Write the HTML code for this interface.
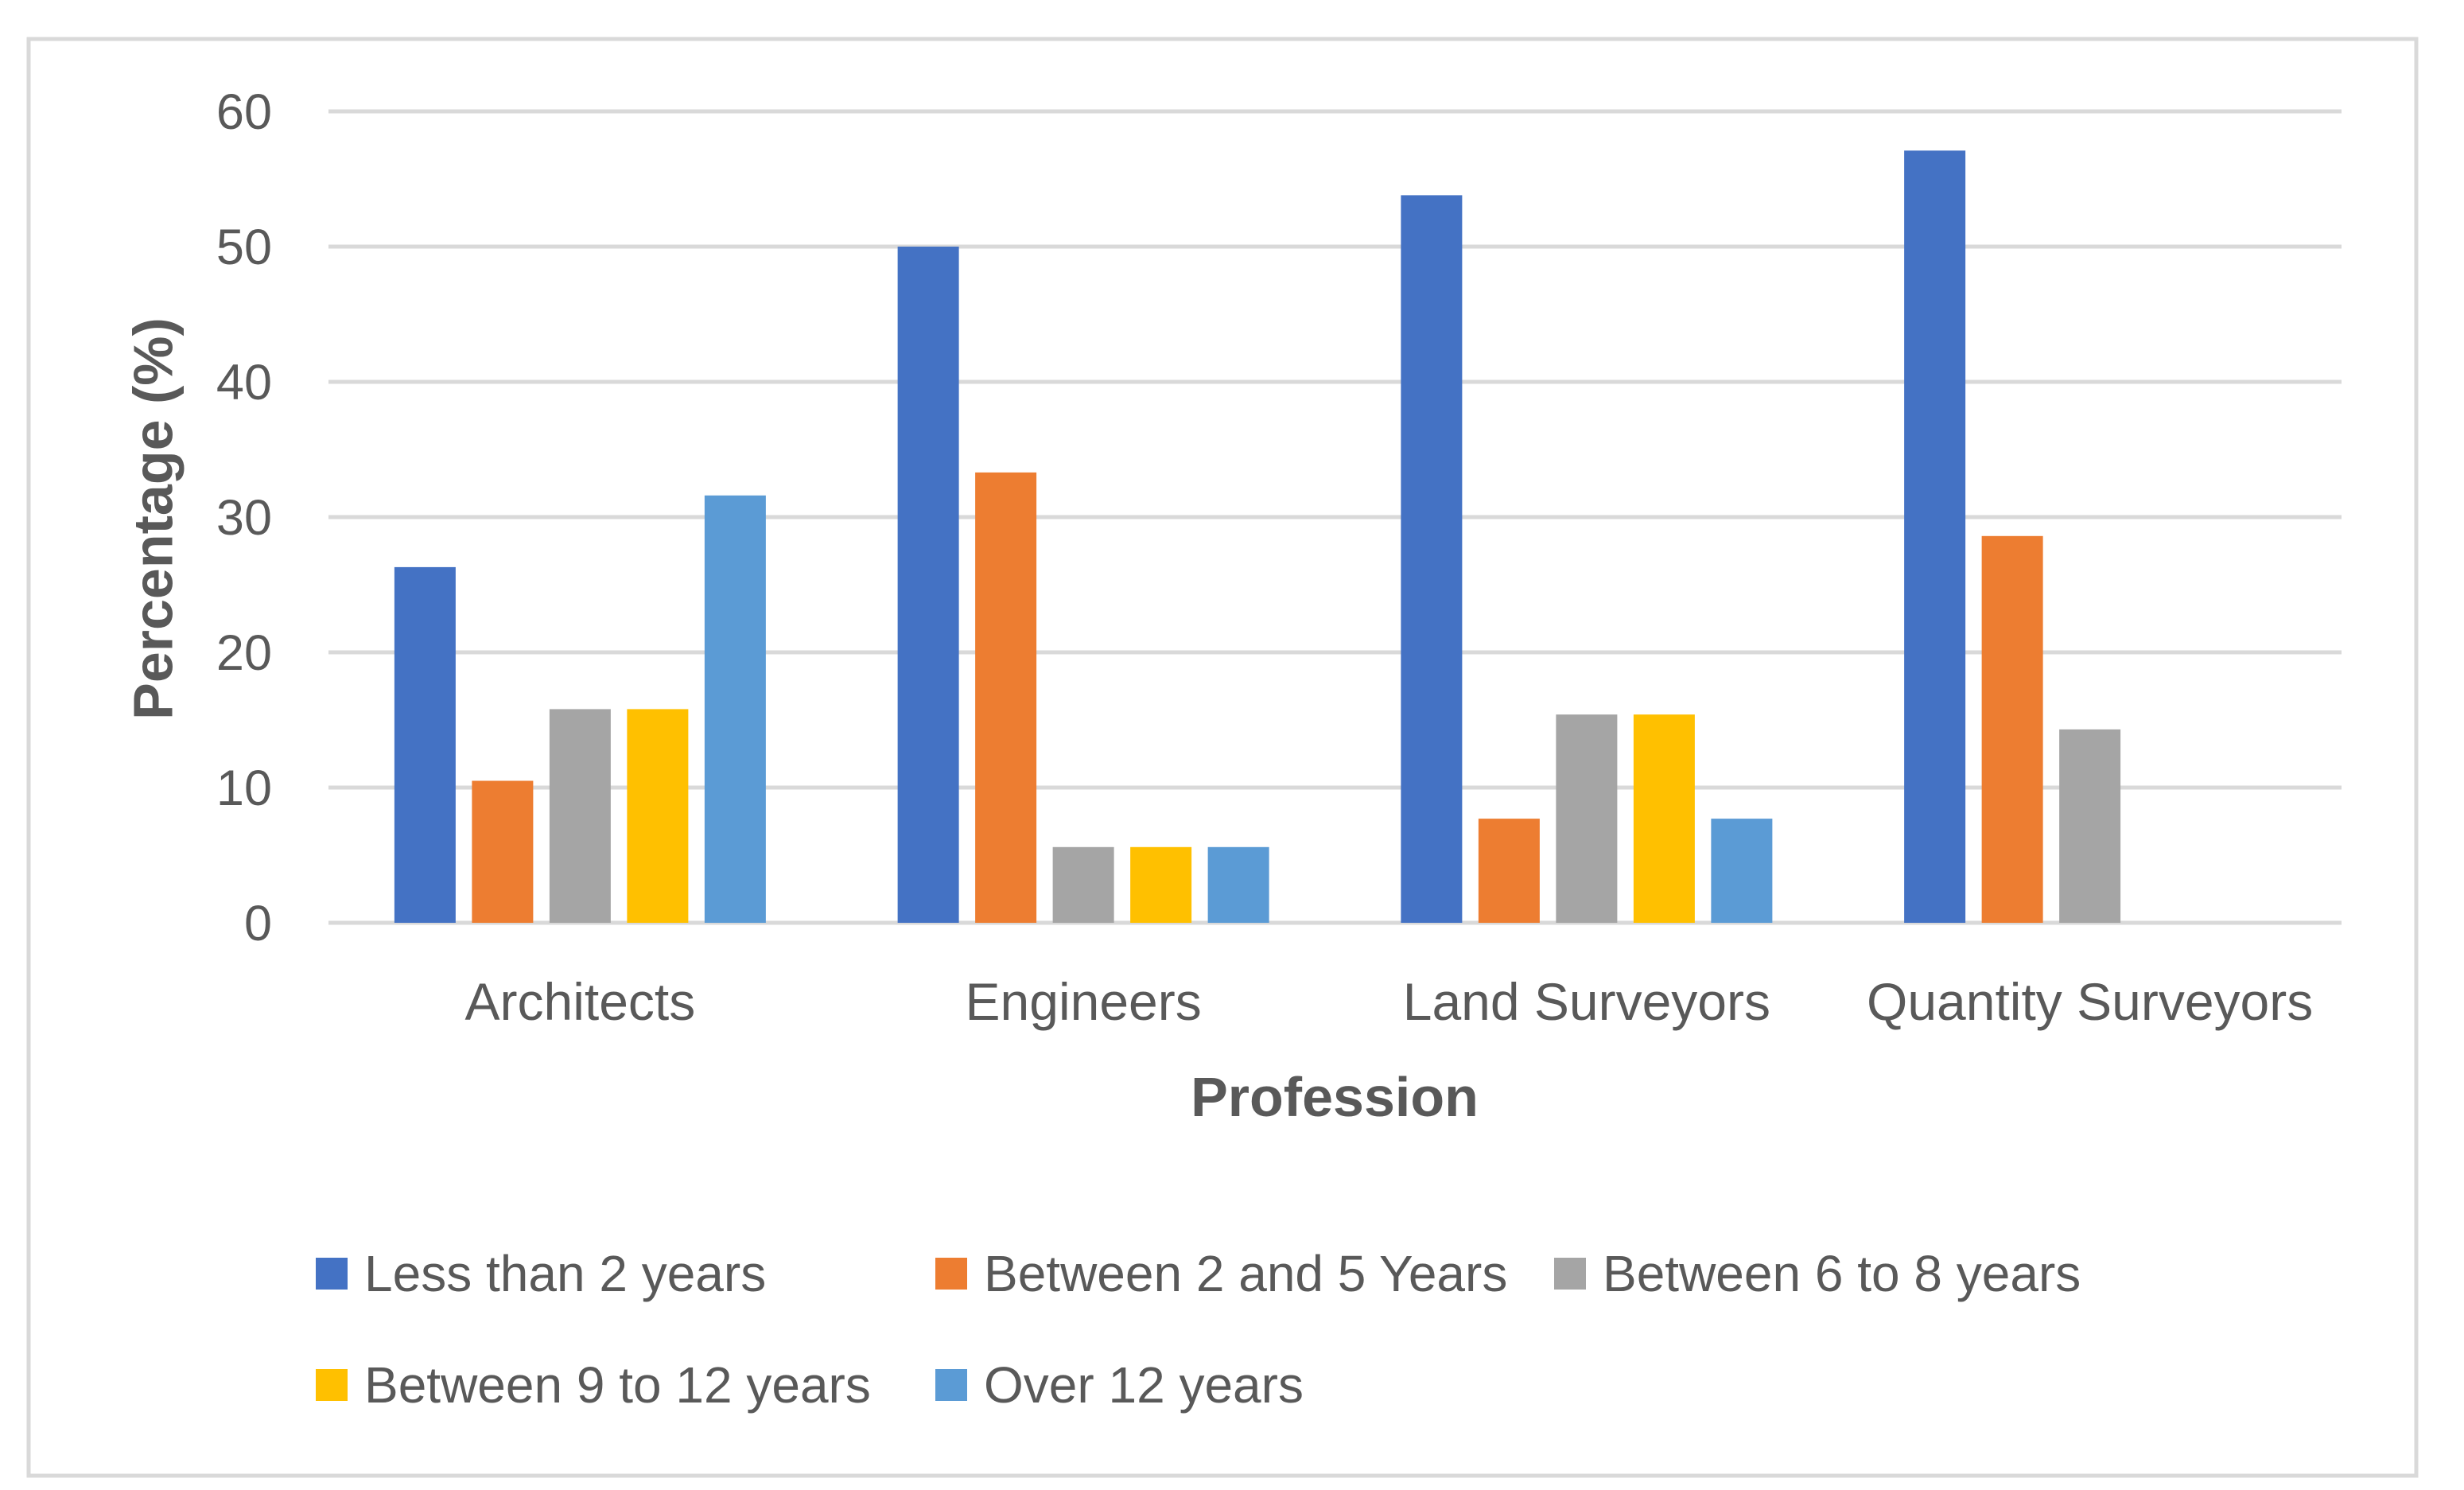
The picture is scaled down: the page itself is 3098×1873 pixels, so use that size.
<!DOCTYPE html>
<html><head><meta charset="utf-8"><style>
html,body{margin:0;padding:0;background:#fff;}
svg{display:block;font-family:"Liberation Sans",sans-serif;}
</style></head><body>
<svg id="chart" width="3098" height="1873" viewBox="0 0 3098 1873" xmlns="http://www.w3.org/2000/svg">
<rect x="36" y="49" width="3002" height="1806" fill="#fff" stroke="#d9d9d9" stroke-width="5"/>
<g id="grid"></g><g id="bars"></g><g id="labels"></g>
<text x="198" y="652" transform="rotate(-90 198 652)" text-anchor="middle" dominant-baseline="middle" font-size="70" font-weight="bold" fill="#595959">Percentage (%)</text>
<text x="1678" y="1403" text-anchor="middle" font-size="70" font-weight="bold" fill="#595959">Profession</text>
<g id="legend"></g>
</svg>
<script>
const categories=["Architects","Engineers","Land Surveyors","Quantity Surveyors"];
const seriesNames=["Less than 2 years","Between 2 and 5 Years","Between 6 to 8 years","Between 9 to 12 years","Over 12 years"];
const lessThan2=[26.3,50,53.8,57.1];
const between2and5=[10.5,33.3,7.7,28.6];
const between6and8=[15.8,5.6,15.4,14.3];
const between9and12=[15.8,5.6,15.4,0];
const over12=[31.6,5.6,7.7,0];
const yTicks=[0,10,20,30,40,50,60];
const series=[lessThan2,between2and5,between6and8,between9and12,over12];
const colors=["#4472c4","#ed7d31","#a5a5a5","#ffc000","#5b9bd5"];
const NS="http://www.w3.org/2000/svg";
const L=413,R=2944,T=140,B=1160,yMax=60;
const y=v=>B-(v/yMax)*(B-T);
const bandW=(R-L)/categories.length;
const barW=77,step=97.5;
const x=(c,s)=>L+bandW*c+bandW/2-(series.length*barW+(series.length-1)*(step-barW))/2+s*step;
function mk(tag,attrs,parent){const e=document.createElementNS(NS,tag);for(const k in attrs)e.setAttribute(k,attrs[k]);parent.appendChild(e);return e;}
const grid=document.getElementById('grid'),bars=document.getElementById('bars'),labels=document.getElementById('labels'),legend=document.getElementById('legend');
yTicks.forEach(t=>{
  const ln=mk('line',{x1:L,x2:R,y1:y(t),y2:y(t),stroke:'#d9d9d9','stroke-width':5},grid);
  
  
  const tx=mk('text',{x:342,y:y(t)+22,'text-anchor':'end','font-size':63,fill:'#595959'},labels);
  tx.textContent=t;
  
  
});
categories.forEach((c,ci)=>{
  series.forEach((s,si)=>{
    const v=s[ci];
    if(v<=0)return;
    const r=mk('rect',{x:x(ci,si),y:y(v),width:barW,height:B-y(v),fill:colors[si]},bars);
    
    
  });
  const tx=mk('text',{x:L+bandW*ci+bandW/2,y:1282,'text-anchor':'middle','font-size':66,fill:'#595959'},labels);
  tx.textContent=c;
  
  
});
const legPos=[[397,1601],[1176,1601],[1954,1601],[397,1741],[1176,1741]];
seriesNames.forEach((n,i)=>{
  const g=mk('g',{},legend);
  
  
  const [lx,ly]=legPos[i];
  const sw=mk('rect',{x:lx,y:ly-20,width:40,height:40,fill:colors[i]},g);
  
  
  const t=mk('text',{x:lx+61,y:ly+22,'font-size':64,fill:'#595959'},g);
  t.textContent=n;
  
  
});
</script>
</body></html>
